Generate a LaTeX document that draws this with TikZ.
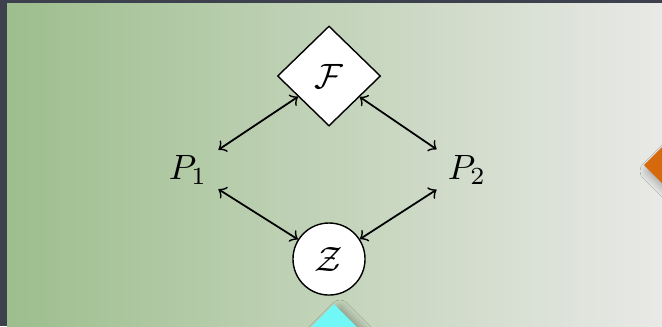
\documentclass[tikz,border=0pt]{standalone}
\usetikzlibrary{shapes.geometric,shadows.blur}
\definecolor{frGray}{HTML}{3D404D}
\definecolor{bgGreen}{HTML}{9DBE8D}
\definecolor{bgLight}{HTML}{E9E9E7}
\definecolor{dcOrange}{HTML}{D5690C}
\definecolor{dcCyan}{HTML}{72F7F7}

\begin{document}
\begin{tikzpicture}[x=0.01cm, y=-0.01cm,
  dia/.style={diamond, draw, fill=white, inner sep=0pt, minimum width=1.03cm, minimum height=1.0cm},
  circ/.style={circle, draw, fill=white, inner sep=0pt, minimum size=0.72cm},
  lbl/.style={inner sep=3pt},
  link/.style={<->, line width=0.5pt},
  deco/.style={diamond, inner sep=0pt, minimum size=1.05cm, blur shadow={shadow blur steps=8, shadow blur radius=1mm, shadow xshift=0.6mm, shadow yshift=-0.6mm, shadow opacity=45}}]
\useasboundingbox (0,0) rectangle (662,326);
% frame and shaded slide
\fill[frGray] (0,0) rectangle (662,326);
\shade[left color=bgGreen, right color=bgLight] (7,3) rectangle (662,326);
% decorations at the slide edges
\node[deco, fill=dcOrange, anchor=west] (orn) at (643,165) {};
\node[deco, fill=dcCyan, anchor=north] (cyn) at (334,303) {};
% nodes
\node[dia] (F) at (329,76) {$\mathcal{F}$};
\node[lbl] (P1) at (188,170) {$P_1$};
\node[lbl] (P2) at (467,170) {$P_2$};
\node[circ] (Z) at (329,259) {$\mathcal{Z}$};
\foreach \a/\b in {F/P1,F/P2,P1/Z,P2/Z}{\draw[link] (\a) -- (\b);}
\end{tikzpicture}
\end{document}
